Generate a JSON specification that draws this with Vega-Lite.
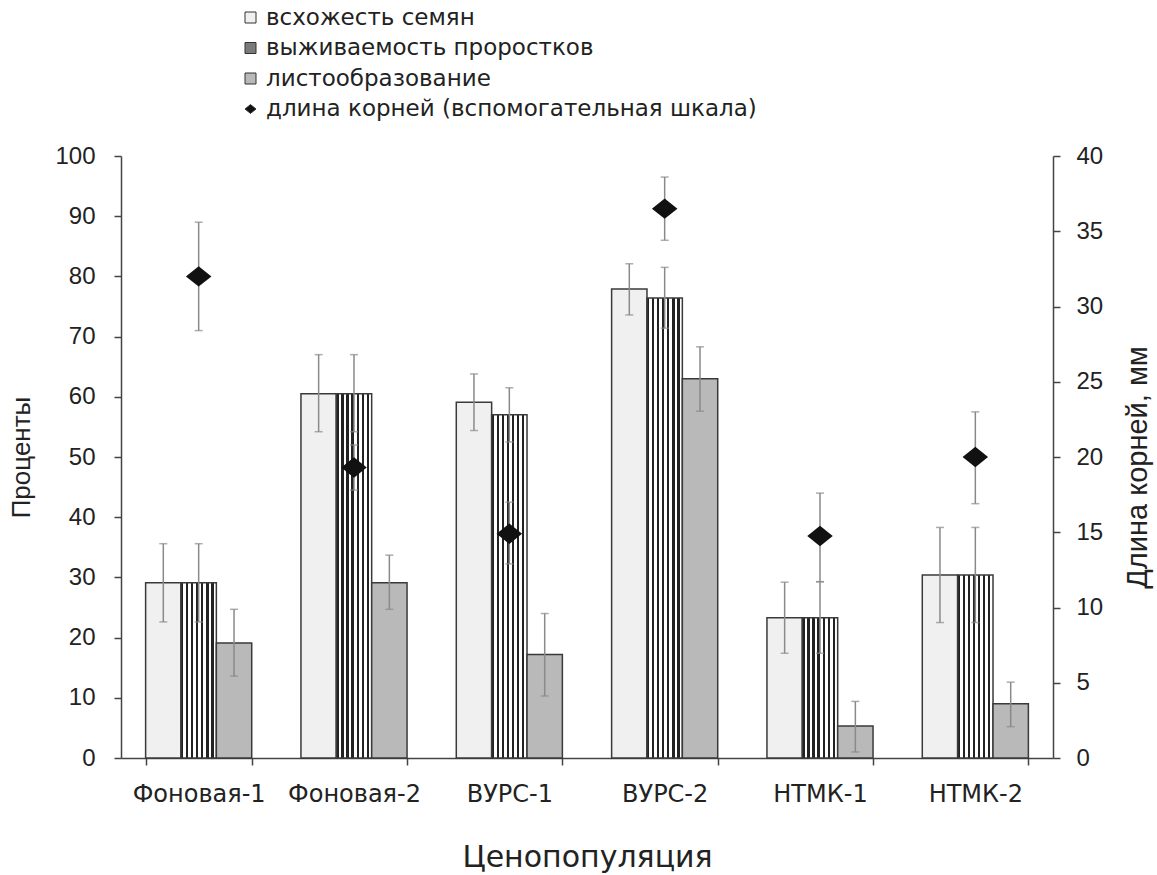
{
  "$schema": "https://vega.github.io/schema/vega-lite/v6.json",
  "width": 932,
  "height": 602,
  "autosize": {"type": "none"},
  "padding": {"left": 121, "top": 156, "right": 104, "bottom": 117},
  "background": "white",
  "config": {
    "font": "Liberation Sans",
    "view": {"stroke": null},
    "axis": {
      "domainColor": "#444",
      "domainWidth": 1.5,
      "tickColor": "#444",
      "tickWidth": 1.5,
      "tickSize": 7,
      "grid": false,
      "labelFont": "Liberation Sans",
      "labelFontSize": 24,
      "labelColor": "#222",
      "titleFont": "Liberation Sans",
      "titleFontSize": 26,
      "titleFontWeight": "normal",
      "titleColor": "#222"
    },
    "legend": {
      "labelFont": "DejaVu Sans",
      "labelFontSize": 23,
      "labelColor": "#222",
      "labelLimit": 800,
      "symbolSize": 121,
      "symbolStrokeColor": "#333",
      "symbolStrokeWidth": 1,
      "labelOffset": 4,
      "rowPadding": 6.5
    }
  },
  "datasets": {
    "bars": [
      {"group": "Фоновая-1", "series": "всхожесть семян", "value": 29.1, "lo": 22.6, "hi": 35.6},
      {"group": "Фоновая-1", "series": "выживаемость проростков", "value": 29.1, "lo": 22.6, "hi": 35.6},
      {"group": "Фоновая-1", "series": "листообразование", "value": 19.1, "lo": 13.6, "hi": 24.7},
      {"group": "Фоновая-2", "series": "всхожесть семян", "value": 60.5, "lo": 54.2, "hi": 67.0},
      {"group": "Фоновая-2", "series": "выживаемость проростков", "value": 60.5, "lo": 54.2, "hi": 67.0},
      {"group": "Фоновая-2", "series": "листообразование", "value": 29.1, "lo": 24.7, "hi": 33.7},
      {"group": "ВУРС-1", "series": "всхожесть семян", "value": 59.1, "lo": 54.4, "hi": 63.8},
      {"group": "ВУРС-1", "series": "выживаемость проростков", "value": 57.0, "lo": 52.5, "hi": 61.5},
      {"group": "ВУРС-1", "series": "листообразование", "value": 17.2, "lo": 10.3, "hi": 24.0},
      {"group": "ВУРС-2", "series": "всхожесть семян", "value": 77.9, "lo": 73.6, "hi": 82.1},
      {"group": "ВУРС-2", "series": "выживаемость проростков", "value": 76.4, "lo": 71.4, "hi": 81.5},
      {"group": "ВУРС-2", "series": "листообразование", "value": 63.0, "lo": 57.6, "hi": 68.3},
      {"group": "НТМК-1", "series": "всхожесть семян", "value": 23.3, "lo": 17.4, "hi": 29.2},
      {"group": "НТМК-1", "series": "выживаемость проростков", "value": 23.3, "lo": 17.4, "hi": 29.3},
      {"group": "НТМК-1", "series": "листообразование", "value": 5.3, "lo": 1.0, "hi": 9.4},
      {"group": "НТМК-2", "series": "всхожесть семян", "value": 30.4, "lo": 22.5, "hi": 38.3},
      {"group": "НТМК-2", "series": "выживаемость проростков", "value": 30.4, "lo": 22.5, "hi": 38.3},
      {"group": "НТМК-2", "series": "листообразование", "value": 9.0, "lo": 5.2, "hi": 12.6}
    ],
    "roots": [
      {"group": "Фоновая-1", "series": "длина корней (вспомогательная шкала)", "value": 32.0, "lo": 28.4, "hi": 35.6},
      {"group": "Фоновая-2", "series": "длина корней (вспомогательная шкала)", "value": 19.3, "lo": 17.8, "hi": 20.8},
      {"group": "ВУРС-1", "series": "длина корней (вспомогательная шкала)", "value": 14.9, "lo": 12.9, "hi": 17.0},
      {"group": "ВУРС-2", "series": "длина корней (вспомогательная шкала)", "value": 36.5, "lo": 34.4, "hi": 38.6},
      {"group": "НТМК-1", "series": "длина корней (вспомогательная шкала)", "value": 14.75, "lo": 11.7, "hi": 17.6},
      {"group": "НТМК-2", "series": "длина корней (вспомогательная шкала)", "value": 20.0, "lo": 16.9, "hi": 23.0}
    ]
  },
  "encoding": {
    "x": {
      "field": "group",
      "type": "nominal",
      "sort": ["Фоновая-1", "Фоновая-2", "ВУРС-1", "ВУРС-2", "НТМК-1", "НТМК-2"],
      "scale": {"paddingInner": 0.317, "paddingOuter": 0.1585},
      "axis": {
        "title": "Ценопопуляция",
        "labelAngle": 0,
        "tickBand": "extent",
        "labelFont": "DejaVu Sans",
        "labelFontSize": 24,
        "labelPadding": 17,
        "titleFont": "DejaVu Sans",
        "titleFontSize": 30,
        "titlePadding": 36
      }
    }
  },
  "layer": [
    {
      "data": {"name": "bars"},
      "encoding": {
        "xOffset": {
          "field": "series",
          "type": "nominal",
          "sort": ["всхожесть семян", "выживаемость проростков", "листообразование"],
          "scale": {"domain": ["всхожесть семян", "выживаемость проростков", "листообразование"], "paddingInner": 0, "paddingOuter": 0}
        }
      },
      "layer": [
        {
          "mark": {"type": "bar", "stroke": "#3a3a3a", "strokeWidth": 1.5},
          "encoding": {
            "y": {
              "field": "value",
              "type": "quantitative",
              "scale": {"domain": [0, 100]},
              "axis": {
                "title": "Проценты",
                "orient": "left",
                "values": [0, 10, 20, 30, 40, 50, 60, 70, 80, 90, 100],
                "labelPadding": 19,
                "titlePadding": 20
              }
            },
            "fill": {
              "condition": {
                "test": "datum.series === 'выживаемость проростков'",
                "value": {"gradient": "linear", "x1": 0, "y1": 0, "x2": 1, "y2": 0, "stops": [
                  {"offset": 0, "color": "#222"}, {"offset": 0.064, "color": "#222"}, {"offset": 0.064, "color": "#fff"}, {"offset": 0.143, "color": "#fff"},
                  {"offset": 0.143, "color": "#222"}, {"offset": 0.207, "color": "#222"}, {"offset": 0.207, "color": "#fff"}, {"offset": 0.286, "color": "#fff"},
                  {"offset": 0.286, "color": "#222"}, {"offset": 0.35, "color": "#222"}, {"offset": 0.35, "color": "#fff"}, {"offset": 0.429, "color": "#fff"},
                  {"offset": 0.429, "color": "#222"}, {"offset": 0.493, "color": "#222"}, {"offset": 0.493, "color": "#fff"}, {"offset": 0.571, "color": "#fff"},
                  {"offset": 0.571, "color": "#222"}, {"offset": 0.636, "color": "#222"}, {"offset": 0.636, "color": "#fff"}, {"offset": 0.714, "color": "#fff"},
                  {"offset": 0.714, "color": "#222"}, {"offset": 0.779, "color": "#222"}, {"offset": 0.779, "color": "#fff"}, {"offset": 0.857, "color": "#fff"},
                  {"offset": 0.857, "color": "#222"}, {"offset": 0.921, "color": "#222"}, {"offset": 0.921, "color": "#fff"}, {"offset": 1, "color": "#fff"}
                ]}
              },
              "field": "series",
              "type": "nominal",
              "scale": {
                "domain": ["всхожесть семян", "выживаемость проростков", "листообразование", "длина корней (вспомогательная шкала)"],
                "range": ["#f0f0f0", "#7a7a7a", "#b9b9b9", "#111111"]
              },
              "legend": {
                "title": null,
                "orient": "none",
                "legendX": 118,
                "legendY": -150,
                "direction": "vertical",
                "encode": {
                  "symbols": {
                    "update": {
                      "stroke": {"value": "#333"},
                      "strokeWidth": {"value": 1},
                      "fill": [
                        {
                          "test": "datum.value === 'выживаемость проростков'",
                          "value": {"gradient": "linear", "x1": 0, "y1": 0, "x2": 1, "y2": 0, "stops": [
                            {"offset": 0, "color": "#333"}, {"offset": 0.12, "color": "#333"}, {"offset": 0.12, "color": "#fff"}, {"offset": 0.25, "color": "#fff"},
                            {"offset": 0.25, "color": "#333"}, {"offset": 0.37, "color": "#333"}, {"offset": 0.37, "color": "#fff"}, {"offset": 0.5, "color": "#fff"},
                            {"offset": 0.5, "color": "#333"}, {"offset": 0.62, "color": "#333"}, {"offset": 0.62, "color": "#fff"}, {"offset": 0.75, "color": "#fff"},
                            {"offset": 0.75, "color": "#333"}, {"offset": 0.87, "color": "#333"}, {"offset": 0.87, "color": "#fff"}, {"offset": 1, "color": "#fff"}
                          ]}
                        },
                        {"scale": "fill", "field": "value"}
                      ]
                    }
                  }
                }
              }
            }
          }
        },
        {
          "mark": {"type": "rule", "color": "#8a8a8a", "strokeWidth": 1.5},
          "encoding": {
            "y": {"field": "lo", "type": "quantitative"},
            "y2": {"field": "hi"}
          }
        },
        {
          "mark": {"type": "tick", "color": "#8a8a8a", "thickness": 1.5, "size": 8},
          "encoding": {"y": {"field": "lo", "type": "quantitative"}}
        },
        {
          "mark": {"type": "tick", "color": "#8a8a8a", "thickness": 1.5, "size": 8},
          "encoding": {"y": {"field": "hi", "type": "quantitative"}}
        }
      ]
    },
    {
      "data": {"name": "roots"},
      "encoding": {
        "xOffset": {"datum": "выживаемость проростков", "type": "nominal"}
      },
      "layer": [
        {
          "mark": {"type": "rule", "color": "#8a8a8a", "strokeWidth": 1.5},
          "encoding": {
            "y": {
              "field": "lo",
              "type": "quantitative",
              "scale": {"domain": [0, 40]},
              "axis": {
                "title": "Длина корней, мм",
                "orient": "right",
                "values": [0, 5, 10, 15, 20, 25, 30, 35, 40],
                "labelPadding": 16,
                "titlePadding": 50,
                "titleAngle": 270,
                "titleFontSize": 29,
                "titleY": 311
              }
            },
            "y2": {"field": "hi"}
          }
        },
        {
          "mark": {"type": "tick", "color": "#8a8a8a", "thickness": 1.5, "size": 8},
          "encoding": {"y": {"field": "lo", "type": "quantitative"}}
        },
        {
          "mark": {"type": "tick", "color": "#8a8a8a", "thickness": 1.5, "size": 8},
          "encoding": {"y": {"field": "hi", "type": "quantitative"}}
        },
        {
          "mark": {"type": "point", "filled": true, "size": 650, "opacity": 1},
          "encoding": {
            "y": {"field": "value", "type": "quantitative"},
            "fill": {"field": "series", "type": "nominal"},
            "shape": {
              "field": "series",
              "type": "nominal",
              "scale": {
                "domain": ["всхожесть семян", "выживаемость проростков", "листообразование", "длина корней (вспомогательная шкала)"],
                "range": ["square", "square", "square", "M-1,0L0,-0.8L1,0L0,0.8Z"]
              },
              "legend": {
                "title": null,
                "orient": "none",
                "legendX": 118,
                "legendY": -150,
                "direction": "vertical"
              }
            }
          }
        }
      ]
    }
  ],
  "resolve": {"scale": {"y": "independent"}}
}
